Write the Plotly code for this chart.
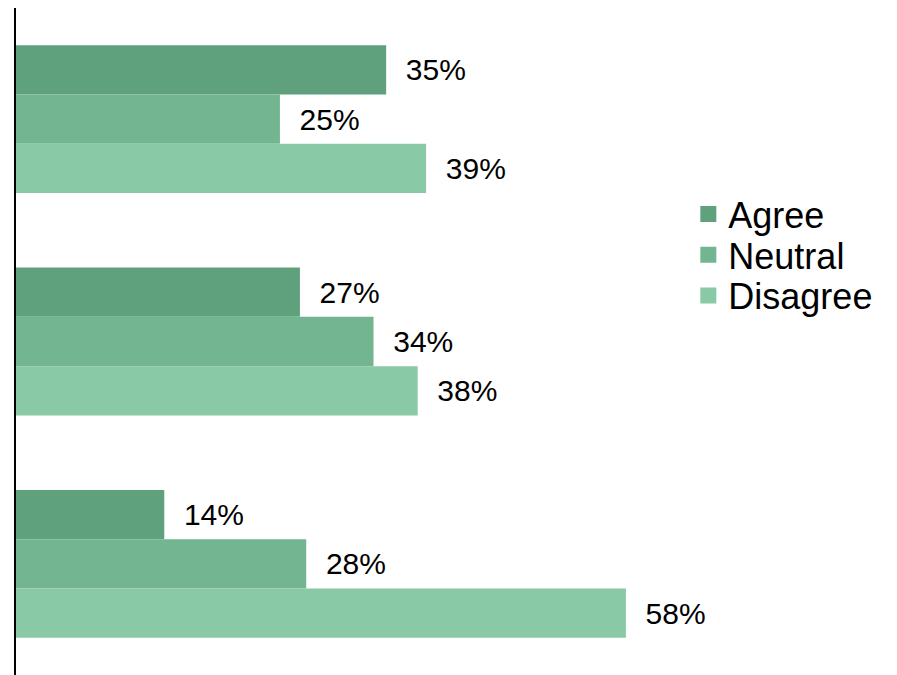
import plotly.graph_objects as go

categories = ["Group 1", "Group 2", "Group 3"]
series_names = ["Agree", "Neutral", "Disagree"]
agree = [35.2, 27.0, 14.1]
neutral = [25.1, 34.0, 27.6]
disagree = [39.0, 38.2, 58.0]
colors = ["#5FA17C", "#74B591", "#89C9A5"]

values = [agree, neutral, disagree]
legend_ids = ["legend", "legend2", "legend3"]
legend_y = [0.691, 0.630, 0.569]

fig = go.Figure()
for name, vals, col in zip(series_names, values, colors):
    fig.add_trace(go.Bar(
        y=categories, x=vals, name=name, orientation="h",
        marker=dict(color=col, line=dict(width=0)),
        text=["  %d%%" % round(v) for v in vals],
        textposition="outside", cliponaxis=False,
        textfont=dict(family="Liberation Sans, Arial", size=30, color="black"),
        showlegend=False,
    ))
for name, col, lid in zip(series_names, colors, legend_ids):
    fig.add_trace(go.Scatter(
        x=[None], y=[None], mode="markers", name=name, legend=lid,
        marker=dict(symbol="square", size=16, color=col, line=dict(width=0)),
    ))

leg_common = dict(x=0.999, xanchor="left", yanchor="middle",
                  font=dict(family="Liberation Sans, Arial", size=36, color="black"),
                  bgcolor="rgba(0,0,0,0)", borderwidth=0)

fig.update_layout(
    width=897, height=675,
    margin=dict(l=8, r=216, t=0, b=8),
    paper_bgcolor="white", plot_bgcolor="white",
    barmode="group", bargap=0.335, bargroupgap=0,
    font=dict(family="Liberation Sans, Arial", color="black"),
    showlegend=True,
    legend=dict(y=legend_y[0], **leg_common),
    legend2=dict(y=legend_y[1], **leg_common),
    legend3=dict(y=legend_y[2], **leg_common),
    xaxis=dict(range=[0, 64], visible=False, showgrid=False, zeroline=False),
    yaxis=dict(autorange="reversed", showticklabels=False, ticks="",
               showgrid=False, zeroline=False,
               showline=True, linecolor="black", linewidth=2),
)

fig.write_html("out.html")
